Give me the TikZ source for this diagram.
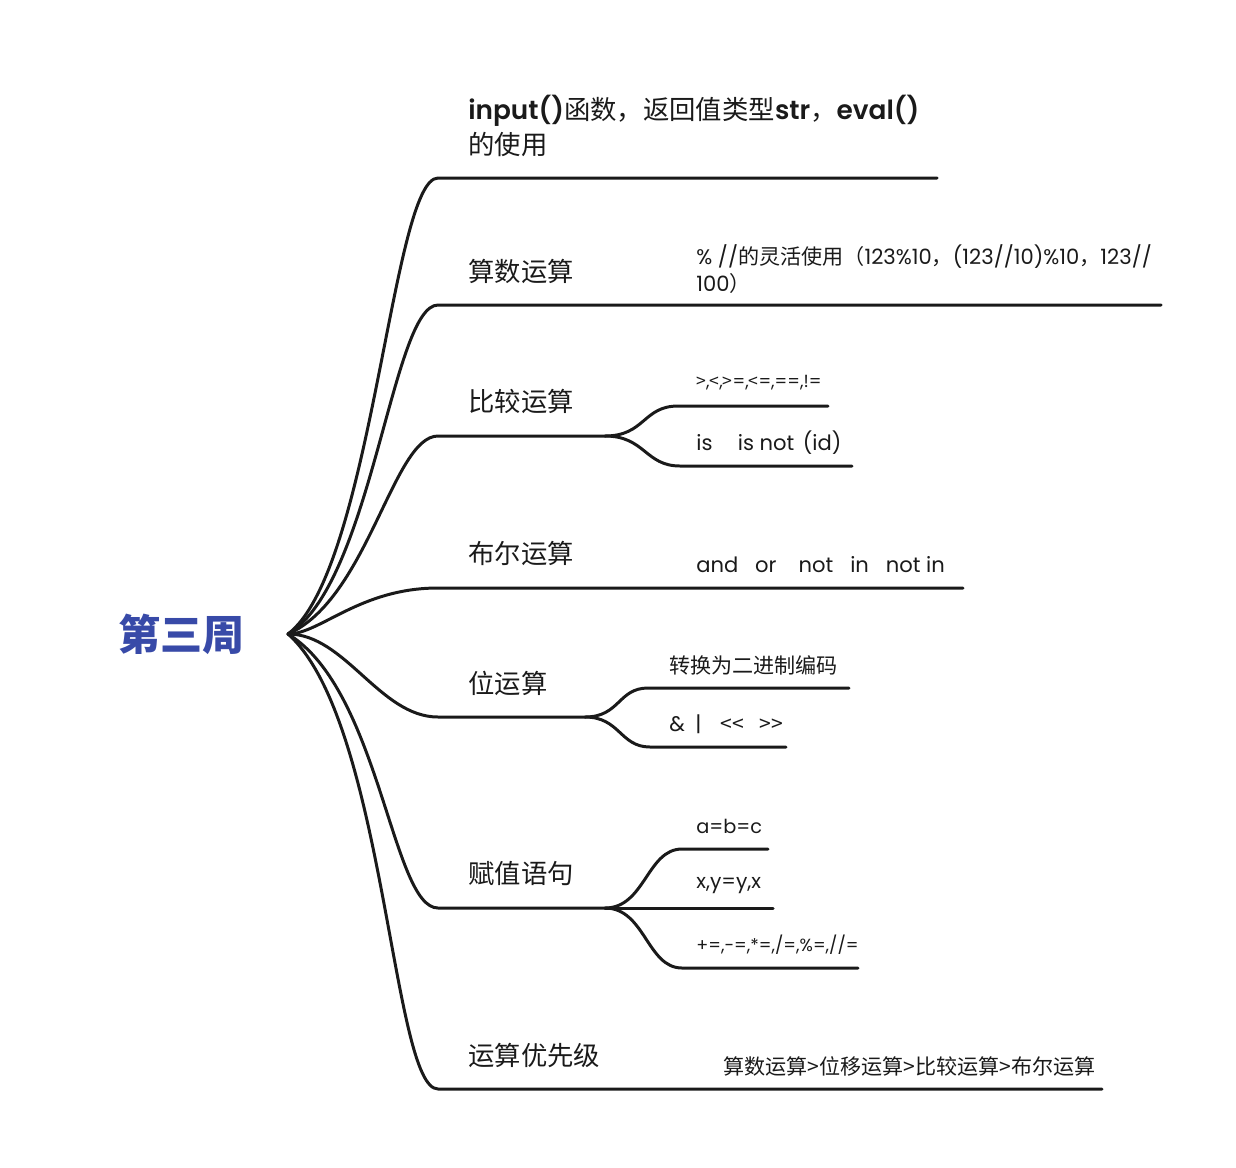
\documentclass[tikz,border=0pt]{standalone}
\usepackage{fontspec}
\setmainfont{Poppins}
\newfontfamily\cjk{Noto Sans CJK SC}
\newfontfamily\semi{Poppins SemiBold}
\newcommand\zh[1]{{\cjk #1}}
\definecolor{titleblue}{RGB}{56,74,168}
\definecolor{ink}{RGB}{26,26,26}

\begin{document}
\begin{tikzpicture}[x=0.02cm, y=-0.02cm, every node/.style={inner sep=0pt, anchor=west, text=ink}]
\tikzset{branch/.style={line width=1.7pt, draw=ink, line cap=round},
  topic/.style={font=\fontsize{15}{20}\selectfont, align=left},
  leaf/.style={font=\fontsize{12}{15}\selectfont, align=left}}
\useasboundingbox (0,0) rectangle (1236,1167);

\node[font=\cjk\bfseries\fontsize{24}{28}\selectfont, text=titleblue] (title) at (118,634) {第三周};
\coordinate (hub) at (288,634);

% topics
\node[topic] (inp) at (468,126) {{\semi input()}\zh{函数，返回值类型}{\semi str}\zh{，}{\semi eval()}\\\zh{的使用}};
\node[topic] (arith) at (468,271) {\zh{算数运算}};
\node[topic] (cmp) at (468,401) {\zh{比较运算}};
\node[topic] (bool) at (468,553) {\zh{布尔运算}};
\node[topic] (bit) at (468,683) {\zh{位运算}};
\node[topic] (asg) at (468,874) {\zh{赋值语句}};
\node[topic] (prio) at (468,1055) {\zh{运算优先级}};

% leaves
\node[leaf] (mod) at (696,269) {\% //\zh{的灵活使用（}123\%10\zh{，}(123//10)\%10\zh{，}123//\\100\zh{）}};
\node[leaf, font=\fontsize{10}{13}\selectfont] (rel) at (696,383) {\zh{>},\zh{<},\zh{>}=,\zh{<}=,==,!=};
\node[leaf] (ident) at (696,443) {is\hspace{1.2em}is not\hspace{0.4em}(id)};
\node[leaf] (logic) at (696,565) {and\hspace{0.8em}or\hspace{1.05em}not\hspace{0.8em}in\hspace{0.8em}not in};
\node[leaf] (bin) at (669,665) {\zh{转换为二进制编码}};
\node[leaf] (ops) at (669,724) {\&\hspace{0.5em}|\hspace{0.9em}\zh{<{}<}\hspace{0.75em}\zh{>{}>}};
\node[leaf, font=\fontsize{11}{14}\selectfont] (chain) at (696,826) {a=b=c};
\node[leaf, font=\fontsize{11.5}{14}\selectfont] (swap) at (696,886) {x,y=y,x};
\node[leaf, font=\fontsize{10}{13}\selectfont] (aug) at (696,945) {+=,-=,*=,/=,\%=,//=};
\node[leaf] (order) at (723,1066) {\zh{算数运算>位移运算>比较运算>布尔运算}};

% main branches
\coordinate (t1) at (438,178); \coordinate (t1e) at (937,178);
\coordinate (t2) at (438,305); \coordinate (t2e) at (1161,305);
\coordinate (t3) at (438,436); \coordinate (t3e) at (605,436);
\coordinate (t4) at (438,588); \coordinate (t4e) at (963,588);
\coordinate (t5) at (438,717); \coordinate (t5e) at (585,717);
\coordinate (t6) at (438,908); \coordinate (t6e) at (605,908);
\coordinate (t7) at (438,1089); \coordinate (t7e) at (1102,1089);
\draw[branch] (hub) .. controls +(84,-64) and +(-46,0) .. (t1) -- (t1e);
\draw[branch] (hub) .. controls +(84,-50) and +(-46,0) .. (t2) -- (t2e);
\draw[branch] (hub) .. controls +(80,-35) and +(-45,0) .. (t3) -- (t3e);
\draw[branch] (hub) .. controls +(32,0) and +(-78,0) .. (t4) -- (t4e);
\draw[branch] (hub) .. controls +(57,0) and +(-58,0) .. (t5) -- (t5e);
\draw[branch] (hub) .. controls +(92,56) and +(-46,0) .. (t6) -- (t6e);
\draw[branch] (hub) .. controls +(97,86) and +(-46,0) .. (t7) -- (t7e);

% sub branches
\coordinate (c1) at (678,406); \coordinate (c1e) at (828,406);
\coordinate (c2) at (680,466); \coordinate (c2e) at (852,466);
\draw[branch] (t3e) .. controls +(40,0) and +(-35,0) .. (c1) -- (c1e);
\draw[branch] (t3e) .. controls +(40,0) and +(-35,0) .. (c2) -- (c2e);
\coordinate (b1) at (648,688); \coordinate (b1e) at (849,688);
\coordinate (b2) at (650,747); \coordinate (b2e) at (786,747);
\draw[branch] (t5e) .. controls +(35,0) and +(-30,0) .. (b1) -- (b1e);
\draw[branch] (t5e) .. controls +(35,0) and +(-30,0) .. (b2) -- (b2e);
\coordinate (s1) at (682,849); \coordinate (s1e) at (768,849);
\coordinate (s2e) at (773,908);
\coordinate (s3) at (682,968); \coordinate (s3e) at (858,968);
\draw[branch] (t6e) .. controls +(40,0) and +(-35,0) .. (s1) -- (s1e);
\draw[branch] (t6e) -- (s2e);
\draw[branch] (t6e) .. controls +(40,0) and +(-35,0) .. (s3) -- (s3e);
\end{tikzpicture}
\end{document}
